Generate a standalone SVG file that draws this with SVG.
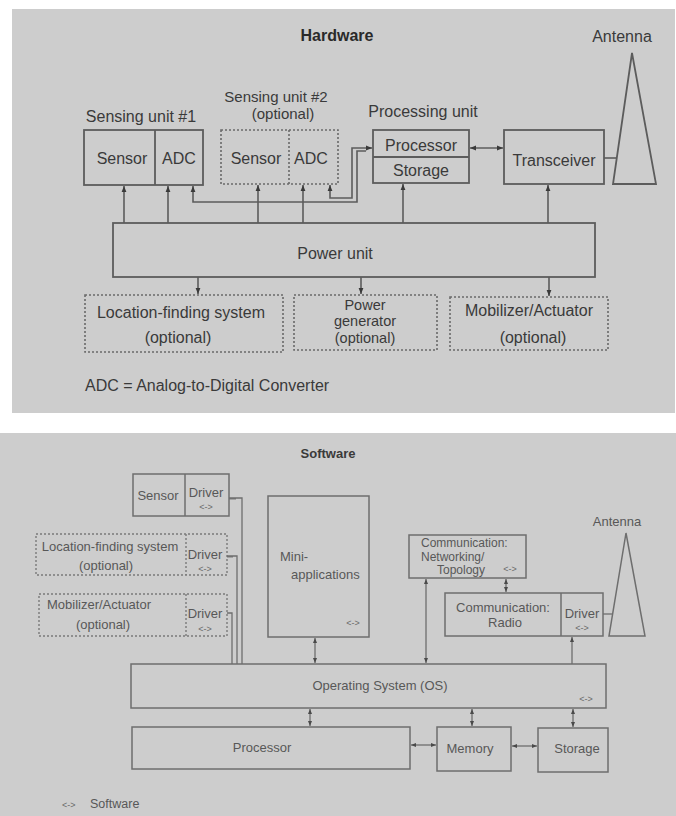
<svg xmlns="http://www.w3.org/2000/svg" width="676" height="816" viewBox="0 0 676 816">
<style>
.bg{fill:#cdcdcd}
.hb{fill:none;stroke:#5c5c5c;stroke-width:1.8}
.hd{fill:none;stroke:#6a6a6a;stroke-width:1.6;stroke-dasharray:2 2}
.hl{fill:none;stroke:#5c5c5c;stroke-width:1.6}
.sb{fill:none;stroke:#6e6e6e;stroke-width:1.5}
.sd{fill:none;stroke:#7a7a7a;stroke-width:1.4;stroke-dasharray:2 2}
.sl{fill:none;stroke:#6e6e6e;stroke-width:1.3}
.t{font-family:"Liberation Sans",Arial,sans-serif;font-size:16px;fill:#3a3a3a}
.tb{font-family:"Liberation Sans",Arial,sans-serif;font-size:16px;font-weight:bold;fill:#2a2a2a}
.s{font-family:"Liberation Sans",Arial,sans-serif;font-size:13px;fill:#585858}
.sbold{font-family:"Liberation Sans",Arial,sans-serif;font-size:13px;font-weight:bold;fill:#3a3a3a}
.sm{font-family:"Liberation Sans",Arial,sans-serif;font-size:9px;fill:#6a6a6a}
.m{text-anchor:middle}
</style>
<defs>
<marker id="ah" viewBox="0 0 10 10" refX="10" refY="5" markerUnits="userSpaceOnUse" markerWidth="6" markerHeight="6" orient="auto-start-reverse"><path d="M0,1 L10,5 L0,9 z" fill="#3a3a3a"/></marker>
<marker id="as" viewBox="0 0 10 10" refX="10" refY="5" markerUnits="userSpaceOnUse" markerWidth="5" markerHeight="5" orient="auto-start-reverse"><path d="M0,1 L10,5 L0,9 z" fill="#4a4a4a"/></marker>
</defs>

<rect class="bg" x="12" y="9" width="663" height="404"/>
<rect class="bg" x="0" y="433" width="676" height="383"/>

<!-- ===== HARDWARE ===== -->
<text class="tb m" x="337" y="41">Hardware</text>

<g id="hw-sensing1">
<text class="t m" x="141" y="122">Sensing unit #1</text>
<rect class="hb" x="84" y="130" width="119" height="55"/>
<line class="hb" x1="155" y1="130" x2="155" y2="185"/>
<text class="t m" x="122" y="164">Sensor</text>
<text class="t m" x="179" y="164">ADC</text>
</g>

<g id="hw-sensing2">
<text class="t m" x="276" y="102" style="font-size:15px">Sensing unit #2</text>
<text class="t m" x="283" y="119" style="font-size:15px">(optional)</text>
<rect class="hd" x="221" y="130" width="117" height="54"/>
<line class="hd" x1="289" y1="130" x2="289" y2="184"/>
<text class="t m" x="256" y="164">Sensor</text>
<text class="t m" x="311" y="164">ADC</text>
</g>

<g id="hw-processing">
<text class="t m" x="423" y="117">Processing unit</text>
<rect class="hb" x="373" y="130" width="96" height="53"/>
<line class="hb" x1="373" y1="157" x2="469" y2="157"/>
<text class="t m" x="421" y="151">Processor</text>
<text class="t m" x="421" y="176">Storage</text>
</g>

<g id="hw-transceiver">
<rect class="hb" x="504" y="130" width="100" height="54"/>
<text class="t m" x="554" y="166">Transceiver</text>
</g>

<g id="hw-antenna">
<text class="t m" x="622" y="42">Antenna</text>
<polygon class="hb" points="632,53 613,184 656,184"/>
</g>

<g id="hw-power">
<rect class="hb" x="113" y="223" width="482" height="54"/>
<text class="t m" x="335" y="259">Power unit</text>
</g>

<g id="hw-location">
<rect class="hd" x="85" y="295" width="198" height="57"/>
<text class="t m" x="181" y="318">Location-finding system</text>
<text class="t m" x="178" y="343">(optional)</text>
</g>

<g id="hw-powergen">
<rect class="hd" x="294" y="295" width="143" height="55"/>
<text class="t m" x="365" y="310" style="font-size:14.5px">Power</text>
<text class="t m" x="365" y="326.3" style="font-size:14.5px">generator</text>
<text class="t m" x="365" y="342.6" style="font-size:14.5px">(optional)</text>
</g>

<g id="hw-mobilizer">
<rect class="hd" x="450" y="297" width="158" height="53"/>
<text class="t m" x="529" y="316">Mobilizer/Actuator</text>
<text class="t m" x="533" y="343">(optional)</text>
</g>

<text class="t" x="85" y="391">ADC = Analog-to-Digital Converter</text>

<g id="hw-connectors">
<line class="hl" x1="124" y1="223" x2="124" y2="186" marker-end="url(#ah)"/>
<line class="hl" x1="168" y1="223" x2="168" y2="186" marker-end="url(#ah)"/>
<line class="hl" x1="258" y1="223" x2="258" y2="185" marker-end="url(#ah)"/>
<line class="hl" x1="303" y1="223" x2="303" y2="185" marker-end="url(#ah)"/>
<line class="hl" x1="403" y1="223" x2="403" y2="184" marker-end="url(#ah)"/>
<line class="hl" x1="548" y1="223" x2="548" y2="185" marker-end="url(#ah)"/>
<path class="hl" d="M193,186 V202 H357 V151 H366" marker-start="url(#ah)"/>
<path class="hl" d="M330,185 V198 H352 V148 H372" marker-start="url(#ah)" marker-end="url(#ah)"/>
<line class="hl" x1="470" y1="148" x2="503" y2="148" marker-start="url(#ah)" marker-end="url(#ah)"/>
<line class="hl" x1="604" y1="158" x2="617" y2="158"/>
<line class="hl" x1="198" y1="277" x2="198" y2="294" marker-end="url(#ah)"/>
<line class="hl" x1="361" y1="277" x2="361" y2="294" marker-end="url(#ah)"/>
<line class="hl" x1="549" y1="277" x2="549" y2="296" marker-end="url(#ah)"/>
</g>

<!-- ===== SOFTWARE ===== -->
<text class="sbold m" x="328" y="458">Software</text>

<g id="sw-sensor">
<rect class="sb" x="133" y="474" width="96" height="42"/>
<line class="sb" x1="185" y1="474" x2="185" y2="516"/>
<text class="s m" x="158" y="500">Sensor</text>
<text class="s m" x="206" y="497">Driver</text>
<text class="sm m" x="206" y="510">&lt;-&gt;</text>
</g>

<g id="sw-location">
<rect class="sd" x="36" y="534" width="191" height="41"/>
<line class="sd" x1="186" y1="534" x2="186" y2="575"/>
<text class="s m" x="110" y="551">Location-finding system</text>
<text class="s m" x="106" y="570">(optional)</text>
<text class="s m" x="205" y="559">Driver</text>
<text class="sm m" x="205" y="572">&lt;-&gt;</text>
</g>

<g id="sw-mobilizer">
<rect class="sd" x="39" y="594" width="188" height="42"/>
<line class="sd" x1="186" y1="594" x2="186" y2="636"/>
<text class="s m" x="99" y="609">Mobilizer/Actuator</text>
<text class="s m" x="103" y="629">(optional)</text>
<text class="s m" x="205" y="618">Driver</text>
<text class="sm m" x="205" y="632">&lt;-&gt;</text>
</g>

<g id="sw-miniapps">
<rect class="sb" x="268" y="496" width="101" height="141"/>
<text class="s" x="280" y="561">Mini-</text>
<text class="s" x="291" y="579">applications</text>
<text class="sm m" x="353" y="626">&lt;-&gt;</text>
</g>

<g id="sw-networking">
<rect class="sb" x="409" y="535" width="117" height="43"/>
<text class="s" x="421" y="547" style="font-size:12px">Communication:</text>
<text class="s" x="421" y="560.5" style="font-size:12px">Networking/</text>
<text class="s m" x="461" y="574" style="font-size:12px">Topology</text>
<text class="sm m" x="510" y="572">&lt;-&gt;</text>
</g>

<g id="sw-radio">
<rect class="sb" x="445" y="593" width="158" height="43"/>
<line class="sb" x1="561" y1="593" x2="561" y2="636"/>
<text class="s m" x="503" y="612">Communication:</text>
<text class="s m" x="505" y="627">Radio</text>
<text class="s m" x="582" y="618">Driver</text>
<text class="sm m" x="582" y="631">&lt;-&gt;</text>
</g>

<g id="sw-antenna">
<text class="s m" x="617" y="526">Antenna</text>
<polygon class="sb" points="626,533 609,636 645,636"/>
</g>

<g id="sw-os">
<rect class="sb" x="131" y="664" width="475" height="44"/>
<text class="s m" x="380" y="690">Operating System (OS)</text>
<text class="sm m" x="586" y="702">&lt;-&gt;</text>
</g>

<g id="sw-processor">
<rect class="sb" x="132" y="727" width="278" height="42"/>
<text class="s m" x="262" y="752">Processor</text>
</g>

<g id="sw-memory">
<rect class="sb" x="437" y="727" width="74" height="44"/>
<text class="s m" x="470" y="753">Memory</text>
</g>

<g id="sw-storage">
<rect class="sb" x="538" y="728" width="70" height="44"/>
<text class="s m" x="577" y="753">Storage</text>
</g>

<text class="sm" x="62" y="808">&lt;-&gt;</text>
<text class="s" x="90" y="808" style="font-size:12.5px">Software</text>

<g id="sw-connectors">
<path class="sl" d="M229,498 H242 V664"/>
<path class="sl" d="M227,556 H237 V664"/>
<path class="sl" d="M227,613 H232 V664"/>
<line class="sl" x1="229" y1="498.8" x2="236" y2="498.8" stroke-width="2.4"/>
<line class="sl" x1="227" y1="556.8" x2="233" y2="556.8" stroke-width="2.2"/>
<line class="sl" x1="315" y1="638" x2="315" y2="663" marker-start="url(#as)" marker-end="url(#as)"/>
<line class="sl" x1="310" y1="709" x2="310" y2="726" marker-start="url(#as)" marker-end="url(#as)"/>
<line class="sl" x1="472" y1="709" x2="472" y2="726" marker-start="url(#as)" marker-end="url(#as)"/>
<line class="sl" x1="573" y1="709" x2="573" y2="727" marker-start="url(#as)" marker-end="url(#as)"/>
<line class="sl" x1="411" y1="745" x2="436" y2="745" marker-start="url(#as)" marker-end="url(#as)"/>
<line class="sl" x1="512" y1="746" x2="537" y2="746" marker-start="url(#as)" marker-end="url(#as)"/>
<line class="sl" x1="426" y1="663" x2="426" y2="579" marker-start="url(#as)" marker-end="url(#as)"/>
<line class="sl" x1="506" y1="579" x2="506" y2="592" marker-start="url(#as)" marker-end="url(#as)"/>
<line class="sl" x1="572" y1="664" x2="572" y2="637" marker-end="url(#as)"/>
<line class="sl" x1="603" y1="614" x2="613" y2="614"/>
</g>
</svg>
